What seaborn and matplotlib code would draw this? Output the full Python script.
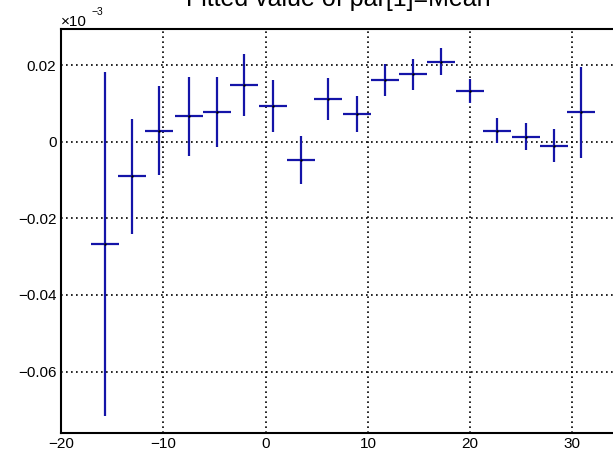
import numpy as np
import pandas as pd
import matplotlib
matplotlib.use("Agg")
import matplotlib.pyplot as plt
from matplotlib.ticker import MultipleLocator, FuncFormatter
import seaborn as sns

# Fitted mean per bin, with its uncertainty
bin_center = [-15.75, -13.05, -10.41, -7.50, -4.80, -2.12, 0.74, 3.42, 6.13,
              8.97, 11.67, 14.38, 17.20, 19.96, 22.63, 25.47, 28.18, 30.88]
mean_value = [-0.0267, -0.0090, 0.0029, 0.0067, 0.0078, 0.0149, 0.0095, -0.0047,
              0.0113, 0.0072, 0.0162, 0.0177, 0.0210, 0.0133, 0.0029, 0.0014,
              -0.0010, 0.0077]
mean_error = [0.0450, 0.0150, 0.0116, 0.0104, 0.0092, 0.0080, 0.0068, 0.0062,
              0.0055, 0.0047, 0.0042, 0.0040, 0.0036, 0.0032, 0.0033, 0.0036,
              0.0043, 0.0119]
bin_half_width = 1.37

title = "Fitted value of par[1]=Mean"

sns.set_theme(style="white")
plt.rcParams["font.family"] = ["Liberation Sans", "DejaVu Sans"]
plt.rcParams["axes.unicode_minus"] = True

df = pd.DataFrame({"x": bin_center, "y": mean_value, "yerr": mean_error})
df["xerr"] = bin_half_width

fig = plt.figure(figsize=(6.13, 4.5), dpi=100)
ax = fig.add_axes([61.3 / 613, 0.0384, 558.0 / 613, 0.8978])

line_color = "#1414a8"
ax.errorbar(df["x"], df["y"], xerr=df["xerr"], yerr=df["yerr"], fmt="none",
            ecolor=line_color, elinewidth=1.6, capsize=0, zorder=3)
sns.scatterplot(data=df, x="x", y="y", ax=ax, color="black", s=3,
                linewidth=0, zorder=4, legend=False)

ax.set_xlim(-20.0, 34.6)
ax.set_ylim(-0.0760, 0.0296)
ax.set_xlabel("")
ax.set_ylabel("")

ax.xaxis.set_major_locator(MultipleLocator(10))
ax.xaxis.set_minor_locator(MultipleLocator(2))
ax.yaxis.set_major_locator(MultipleLocator(0.02))
ax.yaxis.set_minor_locator(MultipleLocator(0.005))

def fmt(v, _pos):
    s = f"{v:.2f}".rstrip("0").rstrip(".")
    if s in ("-0", "0"):
        return "0"
    return s.replace("-", "\u2212")

def fmt_x(v, _pos):
    return f"{v:g}".replace("-", "\u2212")

ax.yaxis.set_major_formatter(FuncFormatter(fmt))
ax.xaxis.set_major_formatter(FuncFormatter(fmt_x))

ax.tick_params(axis="both", which="both", direction="in", colors="black",
               width=1.4, labelsize=11)
ax.tick_params(axis="y", which="major", length=11.5, pad=3.5)
ax.tick_params(axis="y", which="minor", length=5.5)
ax.tick_params(axis="x", which="major", length=8, pad=3)
ax.tick_params(axis="x", which="minor", length=4)
ax.tick_params(top=False, right=False, which="both")

for side in ("left", "bottom", "top", "right"):
    ax.spines[side].set_visible(True)
    ax.spines[side].set_color("black")
    ax.spines[side].set_linewidth(1.5)

ax.grid(True, which="major", color="black", linestyle=(0, (1, 2)),
        linewidth=1.2)
ax.set_axisbelow(True)

fig.text(338 / 613, 1 - 6 / 450, title, ha="center", va="baseline",
         fontsize=18, color="black")
fig.text(61 / 613, 1 - 26 / 450, "\u00d710", ha="left", va="baseline",
         fontsize=11, color="black")
fig.text(91 / 613, 1 - 15 / 450, "\u22123", ha="left", va="baseline",
         fontsize=7.5, color="black")

fig.savefig("out.png", dpi=100)
